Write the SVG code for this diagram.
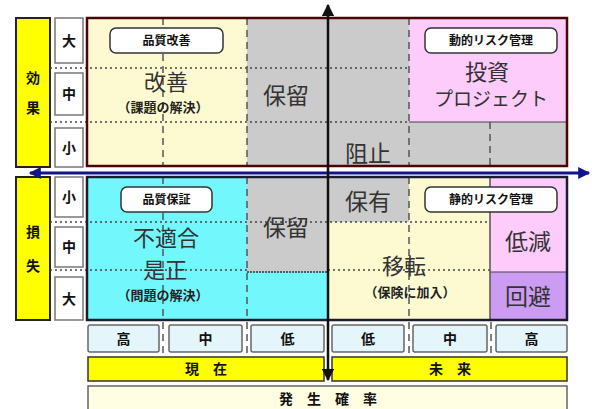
<svg xmlns="http://www.w3.org/2000/svg" width="592" height="409" viewBox="0 0 592 409">
<defs>
<style>
.jp{font-family:"Noto Sans CJK JP","Noto Sans CJK SC",sans-serif}
.big{font-size:23px;fill:#333;text-anchor:middle}
.mid{font-size:22px;fill:#333;text-anchor:middle}
.sub{font-size:13px;font-weight:bold;fill:#222;text-anchor:middle}
.tag{font-size:12px;font-weight:bold;fill:#111;text-anchor:middle}
.lbl{font-size:14px;font-weight:bold;fill:#111;text-anchor:middle}
.tagbox{fill:#fff;stroke:#333;stroke-width:1.5}
.sbox{fill:#fff;stroke:#777;stroke-width:1.5}
.pbox{fill:#e4f5fb;stroke:#666;stroke-width:1.5}
.ybar{fill:#ffff00;stroke:#333;stroke-width:1.5}
.dot{stroke:#444;stroke-width:1.5;stroke-dasharray:2 3;fill:none}
.dash{stroke:#555;stroke-width:1.5;stroke-dasharray:7 5;fill:none}
</style>
<marker id="ab" viewBox="0 0 10 10" refX="9" refY="5" markerWidth="5" markerHeight="5" orient="auto-start-reverse"><path d="M0,0 L10,5 L0,10 z" fill="#111"/></marker>
<marker id="ablue" viewBox="0 0 10 10" refX="9" refY="5" markerWidth="5" markerHeight="4" orient="auto-start-reverse"><path d="M0,0 L10,5 L0,10 z" fill="#14148a"/></marker>
</defs>
<rect width="592" height="409" fill="#fff"/>

<g id="effect-axis">
<rect x="16" y="18" width="34" height="149" fill="#ffff00" stroke="#222" stroke-width="2"/>
<text class="jp lbl" x="33" y="83">効</text>
<text class="jp lbl" x="33" y="113">果</text>
<rect class="sbox" x="55" y="18" width="28" height="45"/>
<text class="jp lbl" x="69" y="46">大</text>
<rect class="sbox" x="55" y="73" width="28" height="42"/>
<text class="jp lbl" x="69" y="99">中</text>
<rect class="sbox" x="55" y="128" width="28" height="39"/>
<text class="jp lbl" x="69" y="153">小</text>
</g>

<g id="loss-axis">
<rect x="16" y="177" width="34" height="143" fill="#ffff00" stroke="#222" stroke-width="2"/>
<text class="jp lbl" x="33" y="237">損</text>
<text class="jp lbl" x="33" y="271">失</text>
<rect class="sbox" x="55" y="177" width="28" height="40"/>
<text class="jp lbl" x="69" y="202">小</text>
<rect class="sbox" x="55" y="227" width="28" height="40"/>
<text class="jp lbl" x="69" y="252">中</text>
<rect class="sbox" x="55" y="277" width="28" height="43"/>
<text class="jp lbl" x="69" y="304">大</text>
</g>

<g id="top-section">
<rect x="87" y="18" width="160" height="148" fill="#fdfad2"/>
<rect x="247" y="18" width="162" height="148" fill="#cbcbcb"/>
<rect x="409" y="18" width="158" height="104" fill="#fdccfb"/>
<rect x="409" y="122" width="158" height="44" fill="#cbcbcb"/>
<line class="dot" x1="50" y1="68" x2="409" y2="68"/>
<line class="dot" x1="50" y1="122" x2="409" y2="122"/>
<line x1="409" y1="122" x2="567" y2="122" stroke="#444" stroke-width="1"/>
<line class="dash" x1="163" y1="18" x2="163" y2="166"/>
<line class="dash" x1="247" y1="18" x2="247" y2="166"/>
<line class="dash" x1="409" y1="18" x2="409" y2="166"/>
<line class="dash" x1="490" y1="122" x2="490" y2="166"/>
<rect x="87" y="18" width="480" height="148" fill="none" stroke="#4a0606" stroke-width="2.5"/>
</g>

<g id="bottom-section">
<rect x="87" y="177" width="241" height="143" fill="#72f8fc"/>
<rect x="247" y="177" width="81" height="95" fill="#cbcbcb"/>
<rect x="328" y="177" width="162" height="143" fill="#fdfad2"/>
<rect x="328" y="177" width="81" height="45" fill="#cbcbcb"/>
<rect x="490" y="177" width="77" height="95" fill="#fdccfb"/>
<rect x="490" y="272" width="77" height="48" fill="#cc9cf2"/>
<line class="dot" x1="50" y1="222" x2="490" y2="222"/>
<line class="dot" x1="50" y1="270" x2="247" y2="270"/>
<line class="dot" x1="328" y1="270" x2="490" y2="270"/>
<line x1="247" y1="272" x2="328" y2="272" stroke="#333" stroke-width="1.5" stroke-dasharray="2 1"/>
<line x1="490" y1="272" x2="567" y2="272" stroke="#444" stroke-width="1"/>
<line class="dash" x1="163" y1="177" x2="163" y2="320"/>
<line class="dash" x1="247" y1="177" x2="247" y2="320"/>
<line class="dash" x1="409" y1="177" x2="409" y2="320"/>
<line x1="490" y1="177" x2="490" y2="320" stroke="#555" stroke-width="1.5"/>
<rect x="87" y="177" width="480" height="143" fill="none" stroke="#1c1c30" stroke-width="2.5"/>
</g>

<g id="node-kaizen">
<rect class="tagbox" x="110" y="28" width="113" height="25" rx="6"/>
<text class="jp tag" x="166.5" y="45">品質改善</text>
<text class="jp mid" x="166" y="90">改善</text>
<text class="jp sub" x="163" y="112">（課題の解決）</text>
</g>
<g id="node-horyu-top"><text class="jp big" x="286" y="104">保留</text></g>
<g id="node-toushi">
<rect class="tagbox" x="425" y="28" width="132" height="25" rx="6"/>
<text class="jp tag" x="491" y="45">動的リスク管理</text>
<text class="jp mid" x="487" y="80">投資</text>
<text class="jp" x="491" y="106" font-size="19" fill="#333" text-anchor="middle">プロジェクト</text>
</g>
<g id="node-soshi"><text class="jp big" x="368" y="162">阻止</text></g>

<g id="node-futekigou">
<rect class="tagbox" x="121" y="187" width="91" height="25" rx="6"/>
<text class="jp tag" x="166.5" y="204">品質保証</text>
<text class="jp mid" x="166" y="246">不適合</text>
<text class="jp mid" x="165" y="278">是正</text>
<text class="jp sub" x="163" y="300">（問題の解決）</text>
</g>
<g id="node-horyu-bottom"><text class="jp big" x="286" y="236">保留</text></g>
<g id="node-hoyu"><text class="jp big" x="368" y="210">保有</text></g>
<g id="node-iten">
<rect class="tagbox" x="425" y="187" width="132" height="25" rx="6"/>
<text class="jp tag" x="491" y="204">静的リスク管理</text>
<text class="jp mid" x="404" y="274">移転</text>
<text class="jp sub" x="410" y="297">（保険に加入）</text>
</g>
<g id="node-teigen"><text class="jp big" x="528" y="250">低減</text></g>
<g id="node-kaihi"><text class="jp big" x="528" y="305">回避</text></g>

<g id="probability-axis">
<rect class="pbox" x="88" y="325" width="71" height="27" rx="2"/>
<text class="jp lbl" x="123.5" y="344">高</text>
<rect class="pbox" x="169" y="325" width="73" height="27" rx="2"/>
<text class="jp lbl" x="205.5" y="344">中</text>
<rect class="pbox" x="251" y="325" width="73" height="27" rx="2"/>
<text class="jp lbl" x="287.5" y="344">低</text>
<rect class="pbox" x="332" y="325" width="72" height="27" rx="2"/>
<text class="jp lbl" x="368" y="344">低</text>
<rect class="pbox" x="413" y="325" width="74" height="27" rx="2"/>
<text class="jp lbl" x="450" y="344">中</text>
<rect class="pbox" x="496" y="325" width="71" height="27" rx="2"/>
<text class="jp lbl" x="531.5" y="344">高</text>
<line class="dash" x1="163" y1="322" x2="163" y2="354" stroke-dasharray="6 4" stroke="#222"/>
<line class="dash" x1="247" y1="322" x2="247" y2="354" stroke-dasharray="6 4" stroke="#222"/>
<line class="dash" x1="409" y1="322" x2="409" y2="354" stroke-dasharray="6 4" stroke="#222"/>
<line class="dash" x1="491" y1="322" x2="491" y2="354" stroke-dasharray="6 4" stroke="#222"/>
<rect class="ybar" x="88" y="357" width="236" height="24"/>
<text class="jp lbl" x="206" y="374">現　在</text>
<rect class="ybar" x="332" y="357" width="235" height="24"/>
<text class="jp lbl" x="450" y="374">未　来</text>
<rect x="88" y="386" width="479" height="30" fill="#fffde2" stroke="#666" stroke-width="1.5"/>
<text class="jp lbl" x="328" y="404">発　生　確　率</text>
</g>

<g id="connectors">
<line x1="30" y1="173" x2="589" y2="173" stroke="#14148a" stroke-width="3" marker-start="url(#ablue)" marker-end="url(#ablue)"/>
<line x1="328" y1="5" x2="328" y2="380" stroke="#111" stroke-width="2.5" marker-start="url(#ab)" marker-end="url(#ab)"/>
</g>
</svg>
